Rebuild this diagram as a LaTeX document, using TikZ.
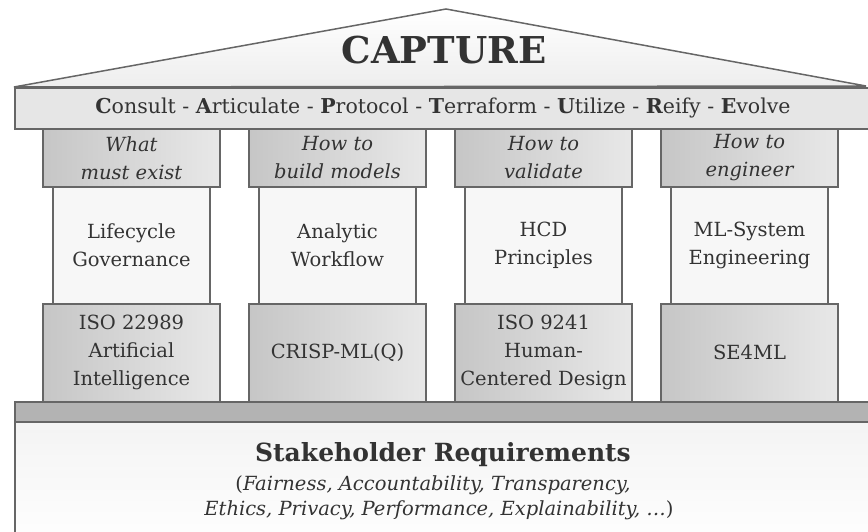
\documentclass[tikz,border=0pt]{standalone}
\usepackage{fontspec}
\setmainfont{DejaVu Serif}
\usepackage{xcolor}
\usetikzlibrary{positioning}
\definecolor{txtc}{HTML}{333333}
\definecolor{linec}{HTML}{666666}
\definecolor{capl}{HTML}{C6C6C6}
\definecolor{capr}{HTML}{E8E8E8}
\definecolor{bandc}{HTML}{E6E6E6}
\definecolor{plinthc}{HTML}{B3B3B3}
\definecolor{shaftc}{HTML}{F7F7F7}

\begin{document}
\begin{tikzpicture}[
  x=1pt, y=-1pt,
  every node/.style={text=txtc, align=center, inner sep=0pt},
  capbox/.style={draw=linec, line width=1.5pt, left color=capl, right color=capr, minimum width=177pt, minimum height=58pt, anchor=north,
    font=\fontsize{19.5}{28}\selectfont\itshape},
  shaft/.style={draw=linec, line width=1.5pt, fill=shaftc, minimum width=157pt, minimum height=117pt, anchor=north,
    font=\fontsize{19.5}{28}\selectfont},
  basebox/.style={draw=linec, line width=1.5pt, left color=capl, right color=capr, minimum width=177pt, minimum height=98pt, anchor=north,
    font=\fontsize{19.5}{28}\selectfont},
  reqline/.style={font=\fontsize{19.5}{25}\selectfont, anchor=base}
]
  \useasboundingbox (0,0) rectangle (868,531);

  % roof
  \coordinate (roofL) at (14,87);
  \coordinate (apex) at (446,9);
  \coordinate (roofR) at (866,86);
  \draw[linec, line width=1.5pt, top color=white, bottom color=bandc!70] (roofL) -- (apex) -- (roofR) -- cycle;
  \node[font=\fontsize{37}{40}\selectfont\bfseries] (title) at (444,50) {CAPTURE};

  % band under the roof
  \node[draw=linec, line width=1.5pt, fill=bandc, minimum width=880pt, minimum height=41pt, anchor=north west] (band) at (14,87) {};
  \node[font=\fontsize{20.5}{22}\selectfont] (acronym) at (443,107.5)
    {\textbf{C}onsult - \textbf{A}rticulate - \textbf{P}rotocol - \textbf{T}erraform - \textbf{U}tilize - \textbf{R}eify - \textbf{E}volve};

  % columns
  \node[shaft] (lcg) at (131.5,186) {Lifecycle\\Governance};
  \node[shaft] (awf) at (337.5,186) {Analytic\\Workflow};
  \node[shaft] (hcd) at (543.5,186) {HCD\\Principles};
  \node[shaft] (mls) at (749.5,186) {ML-System\\Engineering};

  \node[capbox] (exist) at (131.5,128) {What\\must exist};
  \node[capbox] (build) at (337.5,128) {How to\\build models};
  \node[capbox] (valid) at (543.5,128) {How to\\validate};
  \node[capbox] (engin) at (749.5,128) {How to\\engineer};

  \node[basebox] (iso22989) at (131.5,303) {ISO 22989\\Artificial\\Intelligence};
  \node[basebox] (crisp) at (337.5,303) {CRISP-ML(Q)};
  \node[basebox] (iso9241) at (543.5,303) {ISO 9241\\Human-\\Centered Design};
  \node[basebox] (se4ml) at (749.5,303) {SE4ML};

  % plinth and foundation
  \node[draw=linec, line width=1.5pt, fill=plinthc, minimum width=880pt, minimum height=20pt, anchor=north west] (plinth) at (14,401) {};
  \node[draw=linec, line width=1.5pt, top color=shaftc!80!bandc, bottom color=white, minimum width=880pt, minimum height=130pt, anchor=north west] (found) at (14,421) {};

  \node[font=\fontsize{25}{28}\selectfont\bfseries, anchor=base] (reqs) at (443,461) {Stakeholder Requirements};
  \node[reqline] (reqlist1) at (433,490) {(\textit{Fairness, Accountability, Transparency,}};
  \node[reqline] (reqlist2) at (439,515) {\textit{Ethics, Privacy, Performance, Explainability, \dots})};
\end{tikzpicture}
\end{document}
